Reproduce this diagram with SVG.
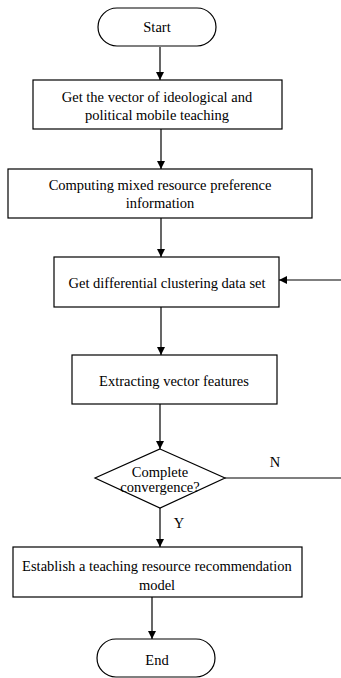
<svg xmlns="http://www.w3.org/2000/svg" width="341" height="678" viewBox="0 0 341 678">
<defs>
<marker id="ah" markerWidth="8" markerHeight="8" refX="8" refY="4" orient="auto" markerUnits="userSpaceOnUse">
<path d="M0,0 L8,4 L0,8 Z" fill="#000"/>
</marker>
<style>
.n{fill:#fff;stroke:#000;stroke-width:1.2}
.t{font-family:'Liberation Serif','Times New Roman',serif;font-size:14.5px;fill:#000;text-anchor:middle;dominant-baseline:central}
.c{stroke:#000;stroke-width:1.2;fill:none}
</style>
</defs>
<rect width="341" height="678" fill="#fff"/>
<g id="connectors">
<line class="c" x1="160" y1="47" x2="160" y2="80" marker-end="url(#ah)"/>
<line class="c" x1="161" y1="129" x2="161" y2="169" marker-end="url(#ah)"/>
<line class="c" x1="161" y1="218" x2="161" y2="257" marker-end="url(#ah)"/>
<line class="c" x1="161" y1="307" x2="161" y2="355" marker-end="url(#ah)"/>
<line class="c" x1="160" y1="404" x2="160" y2="449" marker-end="url(#ah)"/>
<line class="c" x1="160" y1="508" x2="160" y2="547" marker-end="url(#ah)"/>
<line class="c" x1="152" y1="597" x2="152" y2="639" marker-end="url(#ah)"/>
<line class="c" x1="225" y1="478" x2="341" y2="478"/>
<line class="c" x1="341" y1="280" x2="279" y2="280" marker-end="url(#ah)"/>
<text class="t" x="275" y="462" font-family="Liberation Serif, serif">N</text>
<text class="t" x="179" y="523" font-family="Liberation Serif, serif">Y</text>
</g>
<g id="start">
<rect class="n" x="98" y="8" width="118" height="38" rx="19"/>
<text class="t" x="157" y="27">Start</text>
</g>
<g id="step1">
<rect class="n" x="33" y="80" width="249" height="49"/>
<text class="t" x="157" y="97">Get the vector of ideological and</text>
<text class="t" x="157" y="115">political mobile teaching</text>
</g>
<g id="step2">
<rect class="n" x="8" y="169" width="304" height="49"/>
<text class="t" x="160" y="185">Computing mixed resource preference</text>
<text class="t" x="160" y="203">information</text>
</g>
<g id="step3">
<rect class="n" x="54" y="257" width="225" height="50"/>
<text class="t" x="167" y="283">Get differential clustering data set</text>
</g>
<g id="step4">
<rect class="n" x="72" y="355" width="205" height="49"/>
<text class="t" x="174" y="381">Extracting vector features</text>
</g>
<g id="decision">
<polygon class="n" points="160,449 225,478 160,508 95,478"/>
<text class="t" x="160" y="472">Complete</text>
<text class="t" x="160" y="487">convergence?</text>
</g>
<g id="step5">
<rect class="n" x="13" y="547" width="289" height="50"/>
<text class="t" x="157" y="566">Establish a teaching resource recommendation</text>
<text class="t" x="157" y="585">model</text>
</g>
<g id="end">
<rect class="n" x="97" y="639" width="118" height="38" rx="19"/>
<text class="t" x="157" y="660">End</text>
</g>
</svg>
